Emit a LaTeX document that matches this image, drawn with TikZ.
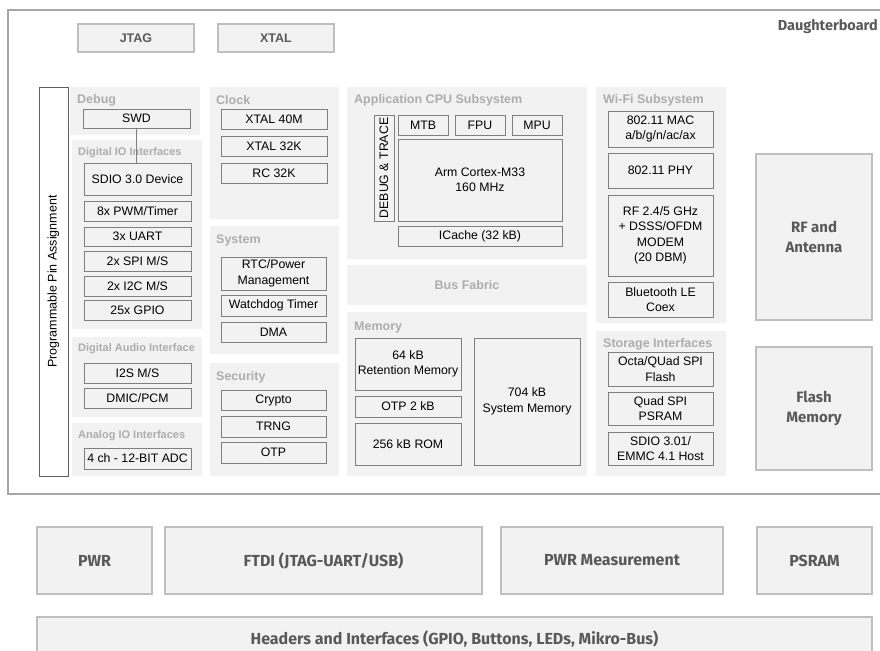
\documentclass[tikz,border=0pt]{standalone}
\usepackage{fontspec}
\setmainfont{Liberation Sans}
\newfontfamily\dfont{Fira Sans}
\definecolor{grpfill}{HTML}{F2F2F2}
\definecolor{ibord}{HTML}{7F7F7F}
\definecolor{obord}{HTML}{BFBFBF}
\definecolor{glab}{HTML}{ADADAD}
\definecolor{otext}{HTML}{595959}
\definecolor{framec}{HTML}{A6A6A6}
\definecolor{pinbord}{HTML}{606060}
\newcommand\bx[7][]{\node[#1, anchor=north west, minimum width={(#5-#3)*1pt}, minimum height={(#6-#4)*1pt}] (#2) at (#3,#4) {#7};}
\tikzset{
  grp/.style={fill=grpfill, draw=none, inner sep=0pt, outer sep=0pt},
  ibox/.style={fill=grpfill, draw=ibord, line width=0.8pt, inner sep=0pt, outer sep=0pt, align=center, font=\fontsize{12.3}{15.5}\selectfont, text=black},
  obox/.style={fill=grpfill, draw=obord, line width=1.5pt, inner sep=0pt, outer sep=0pt, align=center, font=\dfont\bfseries\fontsize{15}{20}\selectfont, text=otext},
  bbox/.style={obox, font=\dfont\bfseries\fontsize{16}{20}\selectfont},
  tbox/.style={obox, font=\bfseries\fontsize{12.5}{15}\selectfont},
  glabel/.style={font=\bfseries\fontsize{12.5}{15}\selectfont, text=glab, inner sep=0pt, anchor=west},
  slabel/.style={glabel, font=\bfseries\fontsize{11}{13}\selectfont},
  conn/.style={draw=ibord, line width=0.8pt}
}
\begin{document}
\begin{tikzpicture}[x=1pt, y=-1pt]
\useasboundingbox (0,0) rectangle (880,650);
\clip (0,0) rectangle (880,650);
% daughterboard frame
\bx[draw=framec, line width=1.2pt, inner sep=0pt, outer sep=0pt]{board}{8}{10}{886}{494}{}
\node[font=\dfont\bfseries\fontsize{14.5}{17}\selectfont, text=otext, anchor=east, inner sep=0pt] (dblabel) at (878,27) {Daughterboard};
% top boxes
\bx[tbox]{jtag}{78}{24}{194}{52}{JTAG}
\bx[tbox]{xtal}{218}{24}{334}{52}{XTAL}
% pin assignment
\bx[fill=white, draw=pinbord, line width=0.8pt, inner sep=0pt, outer sep=0pt]{pin}{39}{87}{68}{476}{}
\node[rotate=90, font=\fontsize{12.5}{15}\selectfont, text=black, inner sep=0pt] (pinlabel) at (pin.center) {Programmable Pin Assignment};
% groups
\bx[grp]{gdebug}{70}{87}{200}{135}{}
\bx[grp]{gdio}{72}{140}{202}{329}{}
\bx[grp]{gaudio}{72}{337}{202}{417}{}
\bx[grp]{ganalog}{72}{423}{202}{476}{}
\bx[grp]{gclock}{210}{87}{339}{219}{}
\bx[grp]{gsys}{210}{226}{339}{354}{}
\bx[grp]{gsec}{210}{363}{339}{476}{}
\bx[grp]{gcpu}{347}{87}{587}{259}{}
\bx[grp]{gbus}{347}{265}{587}{305}{}
\bx[grp]{gmem}{347}{312}{587}{476}{}
\bx[grp]{gwifi}{596}{87}{726}{323}{}
\bx[grp]{gstor}{596}{331}{726}{476}{}
% group labels
\node[glabel] (ldebug) at (77,100) {Debug};
\node[slabel] (ldio) at (78,153) {Digital IO Interfaces};
\node[slabel] (laudio) at (78,349) {Digital Audio Interface};
\node[slabel] (lanalog) at (78,436) {Analog IO Interfaces};
\node[glabel] (lclock) at (216,100) {Clock};
\node[glabel] (lsys) at (216,240) {System};
\node[glabel] (lsec) at (216,377) {Security};
\node[glabel] (lcpu) at (354,100) {Application CPU Subsystem};
\node[glabel, anchor=center] (lbus) at (gbus.center) {Bus Fabric};
\node[glabel] (lmem) at (354,327) {Memory};
\node[glabel] (lwifi) at (603,100) {Wi-Fi Subsystem};
\node[glabel] (lstor) at (603,344) {Storage Interfaces};
% debug / digital io
\bx[ibox]{swd}{83}{109}{190}{128}{SWD}
\bx[ibox]{sdio}{84}{163}{191}{195}{SDIO 3.0 Device}
\bx[ibox]{pwm}{84}{201}{191}{221}{8x PWM/Timer}
\bx[ibox]{uart}{84}{227}{191}{246}{3x UART}
\bx[ibox]{spi}{84}{251}{191}{271}{2x SPI M/S}
\bx[ibox]{i2c}{84}{276}{191}{296}{2x I2C M/S}
\bx[ibox]{gpio}{84}{300}{191}{320}{25x GPIO}
\bx[ibox]{i2s}{84}{363}{191}{383}{I2S M/S}
\bx[ibox]{dmic}{84}{388}{191}{408}{DMIC/PCM}
\bx[ibox]{adc}{84}{448}{191}{469}{4 ch - 12-BIT ADC}
\draw[conn] (swd.south) -- (swd.south |- sdio.north);
% clock / system / security
\bx[ibox]{x40}{221}{109}{327}{129}{XTAL 40M}
\bx[ibox]{x32}{221}{136}{327}{156}{XTAL 32K}
\bx[ibox]{rc32}{221}{163}{327}{183}{RC 32K}
\bx[ibox]{rtc}{221}{257}{326}{290}{RTC/Power\\Management}
\bx[ibox]{wdt}{221}{295}{326}{316}{Watchdog Timer}
\bx[ibox]{dma}{221}{322}{326}{342}{DMA}
\bx[ibox]{crypto}{221}{390}{326}{410}{Crypto}
\bx[ibox]{trng}{221}{416}{326}{437}{TRNG}
\bx[ibox]{otp}{221}{442}{326}{463}{OTP}
% cpu
\bx[ibox]{dbgtr}{374}{115}{394}{221}{}
\node[rotate=90, font=\fontsize{12.3}{15}\selectfont, text=black, inner sep=0pt] (dbgtrlabel) at (dbgtr.center) {DEBUG \& TRACE};
\bx[ibox]{mtb}{398}{115}{448}{135}{MTB}
\bx[ibox]{fpu}{455}{115}{505}{135}{FPU}
\bx[ibox]{mpu}{512}{115}{562}{135}{MPU}
\bx[ibox]{cortex}{398}{139}{562}{221}{Arm Cortex-M33\\160 MHz}
\bx[ibox]{icache}{398}{226}{562}{246}{ICache (32 kB)}
% memory
\bx[ibox]{ret}{355}{338}{461}{390}{64 kB\\Retention Memory}
\bx[ibox]{otp2}{355}{396}{461}{417}{OTP 2 kB}
\bx[ibox]{rom}{355}{423}{461}{465}{256 kB ROM}
\bx[ibox]{sysmem}{474}{338}{580}{465}{704 kB\\System Memory}
% wifi
\bx[ibox]{mac}{608}{111}{713}{147}{802.11 MAC\\a/b/g/n/ac/ax}
\bx[ibox]{phy}{608}{153}{713}{188}{802.11 PHY}
\bx[ibox]{rf}{608}{195}{713}{276}{RF 2.4/5 GHz\\+ DSSS/OFDM\\MODEM\\(20 DBM)}
\bx[ibox]{ble}{608}{282}{713}{317}{Bluetooth LE\\Coex}
% storage
\bx[ibox]{octa}{608}{352}{713}{386}{Octa/QUad SPI\\Flash}
\bx[ibox]{qspi}{608}{392}{713}{425}{Quad SPI\\PSRAM}
\bx[ibox]{emmc}{608}{432}{713}{465}{SDIO 3.01/\\EMMC 4.1 Host}
% right side
\bx[obox]{rfant}{756}{154}{872}{320}{RF and\\Antenna}
\bx[obox]{flash}{756}{347}{872}{470}{Flash\\Memory}
% bottom
\bx[bbox]{pwr}{37}{527}{152}{594}{PWR}
\bx[bbox]{ftdi}{165}{527}{482}{594}{FTDI (JTAG-UART/USB)}
\bx[bbox]{pwrm}{501}{527}{723}{594}{PWR Measurement}
\bx[bbox]{psram}{757}{527}{872}{594}{PSRAM}
\bx[bbox, text depth=0pt]{headers}{37}{617}{872}{659}{Headers and Interfaces (GPIO, Buttons, LEDs, Mikro-Bus)}
\end{tikzpicture}
\end{document}
